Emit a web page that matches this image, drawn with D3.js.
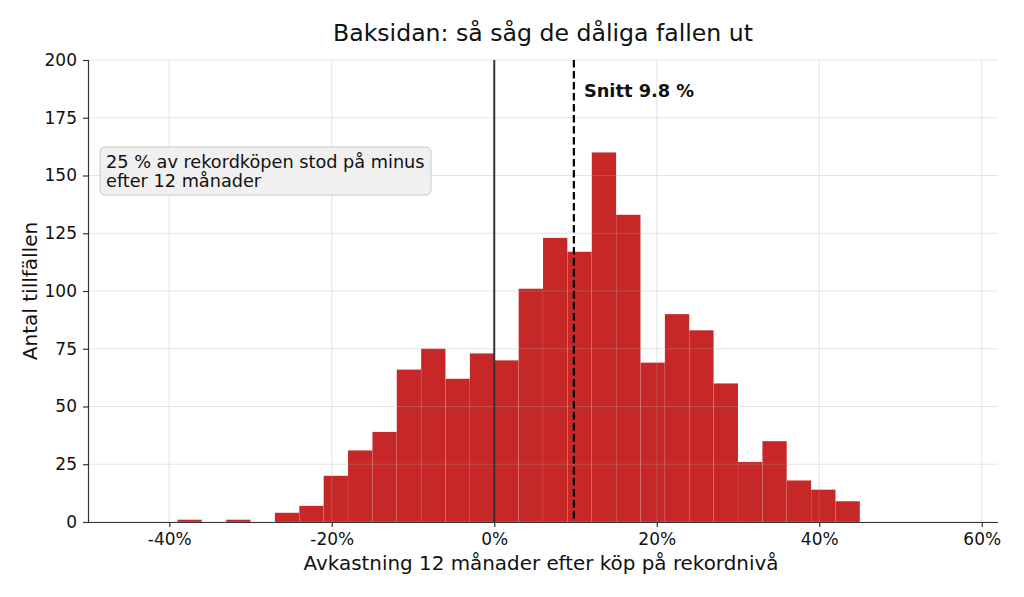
<!DOCTYPE html>
<html>
<head>
<meta charset="utf-8">
<script src="https://cdn.jsdelivr.net/npm/d3@7/dist/d3.min.js"></script>
<style>
  html, body { margin: 0; padding: 0; background: #fff; }
  svg { display: block; font-family: "DejaVu Sans", sans-serif; }
</style>
</head>
<body>
<svg id="chart" width="1024" height="597"></svg>
<script>
// ---- data ----
const binStarts = [-39, -36, -33, -30, -27, -24, -21, -18, -15, -12, -9, -6, -3, 0, 3, 6, 9, 12, 15, 18, 21, 24, 27, 30, 33, 36, 39, 42];
const binCounts = [1, 0, 1, 0, 4, 7, 20, 31, 39, 66, 75, 62, 73, 70, 101, 123, 117, 160, 133, 69, 90, 83, 60, 26, 35, 18, 14, 9];
const binWidth = 3;
const meanValue = 9.8;
const xTicks = [-40, -20, 0, 20, 40, 60];
const yTicks = [0, 25, 50, 75, 100, 125, 150, 175, 200];
const titleText = "Baksidan: så såg de dåliga fallen ut";
const xLabelText = "Avkastning 12 månader efter köp på rekordnivå";
const yLabelText = "Antal tillfällen";
const meanLabel = "Snitt 9.8 %";
const noteLines = ["25 % av rekordköpen stod på minus", "efter 12 månader"];

// ---- layout ----
const svg = d3.select("#chart");
const m = { left: 88, right: 998, top: 60, bottom: 522 };
const x = d3.scaleLinear().domain([-50, 62]).range([m.left, m.right]);
const y = d3.scaleLinear().domain([0, 200]).range([m.bottom, m.top]);

// bars
svg.append("g").selectAll("rect")
  .data(binStarts.map((s, i) => ({ s, c: binCounts[i] })).filter(d => d.c > 0))
  .join("rect")
  .attr("x", d => x(d.s))
  .attr("width", d => x(d.s + binWidth) - x(d.s))
  .attr("y", d => y(d.c))
  .attr("height", d => y(0) - y(d.c))
  .attr("fill", "#c62828")
  .attr("stroke", "rgba(255,255,255,0.15)")
  .attr("stroke-width", 0.5);

// grid (drawn faint over bars)
const grid = svg.append("g").attr("stroke", "rgba(170,170,170,0.3)").attr("stroke-width", 1);
grid.selectAll(".gx").data(xTicks).join("line")
  .attr("x1", d => x(d)).attr("x2", d => x(d))
  .attr("y1", m.top).attr("y2", m.bottom);
grid.selectAll(".gy").data(yTicks).join("line")
  .attr("x1", m.left).attr("x2", m.right)
  .attr("y1", d => y(d)).attr("y2", d => y(d));

// zero line
svg.append("line")
  .attr("x1", x(0)).attr("x2", x(0)).attr("y1", m.top).attr("y2", m.bottom)
  .attr("stroke", "#333").attr("stroke-width", 2);

// mean line
svg.append("line")
  .attr("x1", x(meanValue)).attr("x2", x(meanValue)).attr("y1", m.top).attr("y2", m.bottom)
  .attr("stroke", "#000").attr("stroke-width", 2.2).attr("stroke-dasharray", "7.5,3.5");

svg.append("text")
  .attr("x", x(meanValue) + 10).attr("y", 97)
  .attr("font-size", 17.8).attr("font-weight", "bold").attr("fill", "#111")
  .text(meanLabel);

// axes
const xAxis = d3.axisBottom(x).tickValues(xTicks).tickFormat(d => d + "%").tickSize(5).tickPadding(6);
const yAxis = d3.axisLeft(y).tickValues(yTicks).tickSize(5).tickPadding(6);

const gx = svg.append("g").attr("transform", `translate(0,${m.bottom})`).call(xAxis);
const gy = svg.append("g").attr("transform", `translate(${m.left},0)`).call(yAxis);
[gx, gy].forEach(g => {
  g.select(".domain").attr("stroke", "#333").attr("stroke-width", 1.2);
  g.selectAll(".tick line").attr("stroke", "#333").attr("stroke-width", 1.2);
  g.selectAll(".tick text").attr("font-size", 17).attr("fill", "#111")
    .attr("font-family", "DejaVu Sans");
});
gx.select(".domain").attr("d", `M${m.left},0.5H${m.right}`);
gy.select(".domain").attr("d", `M0.5,${m.bottom}V${m.top}`);

// annotation box
const note = svg.append("g");
note.append("rect")
  .attr("x", 100).attr("y", 147).attr("width", 331).attr("height", 48)
  .attr("rx", 5).attr("fill", "#f0f0f0").attr("stroke", "#c8c8c8").attr("stroke-width", 1);
note.selectAll("text").data(noteLines).join("text")
  .attr("x", 106).attr("y", (d, i) => 168 + i * 19)
  .attr("font-size", 17.7).attr("fill", "#111")
  .text(d => d);

// title & labels
svg.append("text")
  .attr("x", 543).attr("y", 41).attr("text-anchor", "middle")
  .attr("font-size", 23.6).attr("fill", "#111").text(titleText);
svg.append("text")
  .attr("x", 541).attr("y", 570).attr("text-anchor", "middle")
  .attr("font-size", 19.9).attr("fill", "#111").text(xLabelText);
svg.append("text")
  .attr("transform", `translate(37,${(m.top + m.bottom) / 2}) rotate(-90)`)
  .attr("text-anchor", "middle")
  .attr("font-size", 20).attr("fill", "#111").text(yLabelText);
</script>
</body>
</html>
